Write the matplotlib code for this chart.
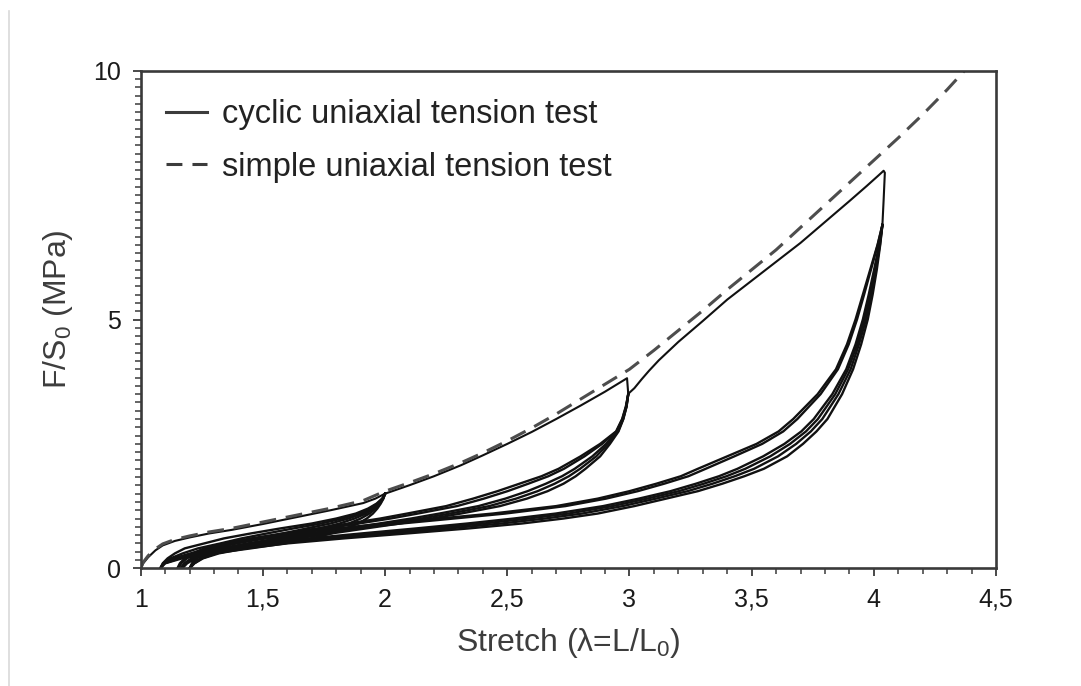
"""
Curvas de tracción uniaxial: ensayo cíclico frente a ensayo simple
"""

import matplotlib
matplotlib.use('Agg')
import matplotlib.pyplot as plt
from matplotlib.lines import Line2D
from matplotlib.ticker import MultipleLocator

plt.rcParams['font.family'] = ['Liberation Sans', 'DejaVu Sans']
plt.rcParams['mathtext.fontset'] = 'custom'
plt.rcParams['mathtext.rm'] = 'Liberation Sans'

# Ensayo de tracción simple (curva discontinua)
simple_x = [1.0, 1.01, 1.03, 1.06, 1.09, 1.14, 1.2, 1.28, 1.37, 1.5, 1.64, 1.78, 1.91,
            2.0, 2.1, 2.2, 2.31, 2.4, 2.5, 2.6, 2.7, 2.8, 2.9, 3.0, 3.1, 3.2, 3.3,
            3.4, 3.5, 3.6, 3.7, 3.8, 3.9, 4.0, 4.1, 4.2, 4.3, 4.38]
simple_y = [0.0, 0.12, 0.25, 0.39, 0.49, 0.58, 0.65, 0.73, 0.8, 0.93, 1.07, 1.21, 1.36,
            1.55, 1.72, 1.9, 2.12, 2.32, 2.56, 2.82, 3.1, 3.4, 3.7, 4.0, 4.38, 4.78, 5.18,
            5.6, 6.0, 6.4, 6.85, 7.3, 7.75, 8.2, 8.65, 9.12, 9.62, 10.05]

# Primera carga del ensayo cíclico hasta cada nuevo máximo de estiramiento
load1_x = [1.0, 1.01, 1.03, 1.06, 1.09, 1.14, 1.2, 1.28, 1.37, 1.5, 1.64, 1.78, 1.91, 1.96, 2.0]
load1_y = [0.0, 0.1, 0.22, 0.36, 0.46, 0.55, 0.62, 0.7, 0.77, 0.89, 1.03, 1.17, 1.31, 1.4, 1.5]
load2_x = [2.0, 2.1, 2.2, 2.31, 2.4, 2.5, 2.6, 2.7, 2.8, 2.9, 2.96, 2.99, 2.995]
load2_y = [1.5, 1.67, 1.85, 2.07, 2.27, 2.5, 2.74, 3.0, 3.27, 3.55, 3.73, 3.82, 3.5]
load3_x = [2.995, 3.0, 3.02, 3.05, 3.08, 3.12, 3.2, 3.3, 3.4, 3.5, 3.6, 3.7, 3.8, 3.9,
           3.97, 4.02, 4.04, 4.045, 4.04, 4.035]
load3_y = [3.5, 3.53, 3.62, 3.8, 3.97, 4.18, 4.55, 4.97, 5.4, 5.78, 6.16, 6.54, 6.96, 7.38,
           7.68, 7.9, 7.99, 7.95, 7.4, 6.9]

# Ciclos de descarga / recarga: estiramiento para cada nivel de tensión
# (primera fila = recarga superior, última fila = descarga inferior)
lvl2_stress = [0, 0.1, 0.2, 0.3, 0.4, 0.5, 0.6, 0.7, 0.8, 0.9, 1.0, 1.1, 1.2, 1.3, 1.4, 1.5]
lvl2_branches = [
    [1.08, 1.09, 1.11, 1.14, 1.18, 1.26, 1.34, 1.45, 1.57, 1.70, 1.80, 1.88, 1.93, 1.965, 1.988, 2.0],
    [1.08, 1.092, 1.122, 1.172, 1.234, 1.326, 1.412, 1.516, 1.624, 1.738, 1.825, 1.894, 1.938, 1.968, 1.989, 2.0],
    [1.08, 1.094, 1.134, 1.204, 1.288, 1.392, 1.484, 1.582, 1.678, 1.776, 1.85, 1.908, 1.945, 1.972, 1.99, 2.0],
    [1.08, 1.096, 1.146, 1.236, 1.342, 1.458, 1.556, 1.648, 1.732, 1.814, 1.875, 1.922, 1.953, 1.975, 1.991, 2.0],
    [1.08, 1.098, 1.158, 1.268, 1.396, 1.524, 1.628, 1.714, 1.786, 1.852, 1.90, 1.936, 1.96, 1.979, 1.992, 2.0],
    [1.08, 1.10, 1.17, 1.30, 1.45, 1.59, 1.70, 1.78, 1.84, 1.89, 1.925, 1.95, 1.968, 1.982, 1.993, 2.0],
]

lvl3_stress = [0, 0.1, 0.2, 0.3, 0.4, 0.5, 0.6, 0.7, 0.8, 0.9, 1.0, 1.1, 1.25, 1.4, 1.55,
               1.7, 1.85, 2.0, 2.25, 2.5, 2.75, 3.0, 3.25, 3.5]
lvl3_branches = [
    [1.15, 1.16, 1.18, 1.21, 1.26, 1.34, 1.45, 1.58, 1.72, 1.85, 1.98, 2.09, 2.25, 2.36, 2.46,
     2.55, 2.64, 2.71, 2.80, 2.88, 2.945, 2.97, 2.985, 2.995],
    [1.154, 1.166, 1.189, 1.224, 1.282, 1.372, 1.488, 1.62, 1.76, 1.892, 2.022, 2.134, 2.294, 2.404, 2.501,
     2.586, 2.668, 2.732, 2.816, 2.888, 2.947, 2.971, 2.986, 2.995],
    [1.162, 1.178, 1.207, 1.252, 1.326, 1.436, 1.564, 1.70, 1.84, 1.976, 2.106, 2.222, 2.382, 2.492, 2.583,
     2.658, 2.724, 2.776, 2.848, 2.904, 2.951, 2.973, 2.987, 2.995],
    [1.166, 1.184, 1.216, 1.266, 1.348, 1.468, 1.602, 1.74, 1.88, 2.018, 2.148, 2.266, 2.426, 2.536, 2.624,
     2.694, 2.752, 2.798, 2.864, 2.912, 2.953, 2.974, 2.988, 2.995],
    [1.17, 1.19, 1.225, 1.28, 1.37, 1.50, 1.64, 1.78, 1.92, 2.06, 2.19, 2.31, 2.47, 2.58, 2.665,
     2.73, 2.78, 2.82, 2.88, 2.92, 2.955, 2.975, 2.988, 2.995],
]

lvl4_stress = [0, 0.1, 0.2, 0.3, 0.4, 0.5, 0.6, 0.7, 0.8, 0.9, 1.0, 1.1, 1.25, 1.4, 1.55,
               1.7, 1.85, 2.0, 2.25, 2.5, 2.75, 3.0, 3.5, 4.0, 4.5, 5.0, 5.5, 6.0, 6.5, 6.9]
lvl4_branches = [
    [1.2, 1.21, 1.225, 1.25, 1.29, 1.36, 1.47, 1.62, 1.80, 2.00, 2.22, 2.44, 2.70, 2.87, 3.00,
     3.11, 3.21, 3.28, 3.40, 3.52, 3.61, 3.67, 3.77, 3.845, 3.89, 3.925, 3.955, 3.985, 4.015, 4.035],
    [1.2, 1.211, 1.229, 1.258, 1.307, 1.389, 1.513, 1.676, 1.865, 2.067, 2.281, 2.492, 2.738, 2.904, 3.034,
     3.142, 3.241, 3.312, 3.429, 3.543, 3.629, 3.687, 3.782, 3.853, 3.897, 3.931, 3.96, 3.988, 4.016, 4.035],
    [1.2, 1.216, 1.243, 1.292, 1.374, 1.504, 1.686, 1.902, 2.124, 2.336, 2.526, 2.698, 2.892, 3.038, 3.168,
     3.272, 3.366, 3.442, 3.547, 3.634, 3.703, 3.754, 3.83, 3.887, 3.925, 3.955, 3.979, 4.001, 4.022, 4.035],
    [1.2, 1.217, 1.247, 1.30, 1.391, 1.533, 1.729, 1.958, 2.189, 2.403, 2.587, 2.75, 2.93, 3.072, 3.202,
     3.304, 3.397, 3.474, 3.576, 3.657, 3.722, 3.771, 3.842, 3.895, 3.932, 3.961, 3.984, 4.004, 4.023, 4.035],
    [1.2, 1.219, 1.251, 1.31, 1.409, 1.564, 1.776, 2.02, 2.259, 2.476, 2.654, 2.806, 2.972, 3.108, 3.238,
     3.34, 3.431, 3.51, 3.608, 3.682, 3.742, 3.789, 3.855, 3.905, 3.939, 3.968, 3.989, 4.008, 4.025, 4.035],
    [1.2, 1.22, 1.255, 1.32, 1.43, 1.60, 1.83, 2.09, 2.34, 2.56, 2.73, 2.87, 3.02, 3.15, 3.28,
     3.38, 3.47, 3.55, 3.645, 3.71, 3.765, 3.81, 3.87, 3.915, 3.948, 3.975, 3.995, 4.012, 4.026, 4.035],
]

x_ticks = [1, 1.5, 2, 2.5, 3, 3.5, 4, 4.5]
x_tick_labels = ['1', '1,5', '2', '2,5', '3', '3,5', '4', '4,5']
y_ticks = [0, 5, 10]
y_tick_labels = ['0', '5', '10']

legend_labels = ['cyclic uniaxial tension test', 'simple uniaxial tension test']

axis_color = '#3a3a3a'
curve_color = '#111111'
dash_color = '#4d4d4d'

fig = plt.figure(figsize=(10.81, 6.86), dpi=100)
ax = fig.add_axes([0.1302, 0.1716, 0.7912, 0.7253])

# Curvas del ensayo cíclico
for xs, ys in [(load1_x, load1_y), (load2_x, load2_y), (load3_x, load3_y)]:
    ax.plot(xs, ys, color=curve_color, lw=1.5, solid_joinstyle='round')
for stress, branches in [(lvl2_stress, lvl2_branches),
                         (lvl3_stress, lvl3_branches),
                         (lvl4_stress, lvl4_branches)]:
    for branch in branches:
        ax.plot(branch, stress, color=curve_color, lw=1.7, solid_joinstyle='round')

# Ensayo simple
ax.plot(simple_x, simple_y, color=dash_color, lw=2.2, ls=(0, (5.5, 3.2)))

ax.set_xlim(1, 4.5)
ax.set_ylim(0, 10)
ax.set_xticks(x_ticks)
ax.set_xticklabels(x_tick_labels)
ax.set_yticks(y_ticks)
ax.set_yticklabels(y_tick_labels)
ax.xaxis.set_minor_locator(MultipleLocator(0.1))
ax.yaxis.set_minor_locator(MultipleLocator(1 / 6))
ax.tick_params(which='major', direction='out', length=6, width=1.3,
               color=axis_color, labelsize=18, labelcolor='#1a1a1a', pad=8)
ax.tick_params(which='minor', direction='out', length=4, width=1.1, color=axis_color)

for spine in ax.spines.values():
    spine.set_color(axis_color)
    spine.set_linewidth(1.9)

ax.set_xlabel('Stretch (λ=L/L$_\\mathregular{0}$)', fontsize=23, color='#3d3d3d', labelpad=10)
ax.set_ylabel('F/S$_\\mathregular{0}$ (MPa)', fontsize=23, color='#3d3d3d')
ax.yaxis.set_label_coords(-0.077, 0.52)

handles = [Line2D([], [], color='#3c3c3c', lw=2.2),
           Line2D([], [], color='#3c3c3c', lw=2.2, ls=(0, (5.2, 3.3)))]
ax.legend(handles, legend_labels, loc='upper left', bbox_to_anchor=(0.0295, 0.943),
          frameon=False, fontsize=23.5, handlelength=1.26, handletextpad=0.46,
          labelspacing=0.66, borderpad=0, borderaxespad=0, labelcolor='#222222')

# Línea fina gris en el borde izquierdo de la figura
fig.add_artist(Line2D([8.5 / 1081, 8.5 / 1081], [0, 1 - 11 / 686],
                      transform=fig.transFigure, color='#d9d9d9', lw=1.2))

fig.savefig('out.png', dpi=100)
